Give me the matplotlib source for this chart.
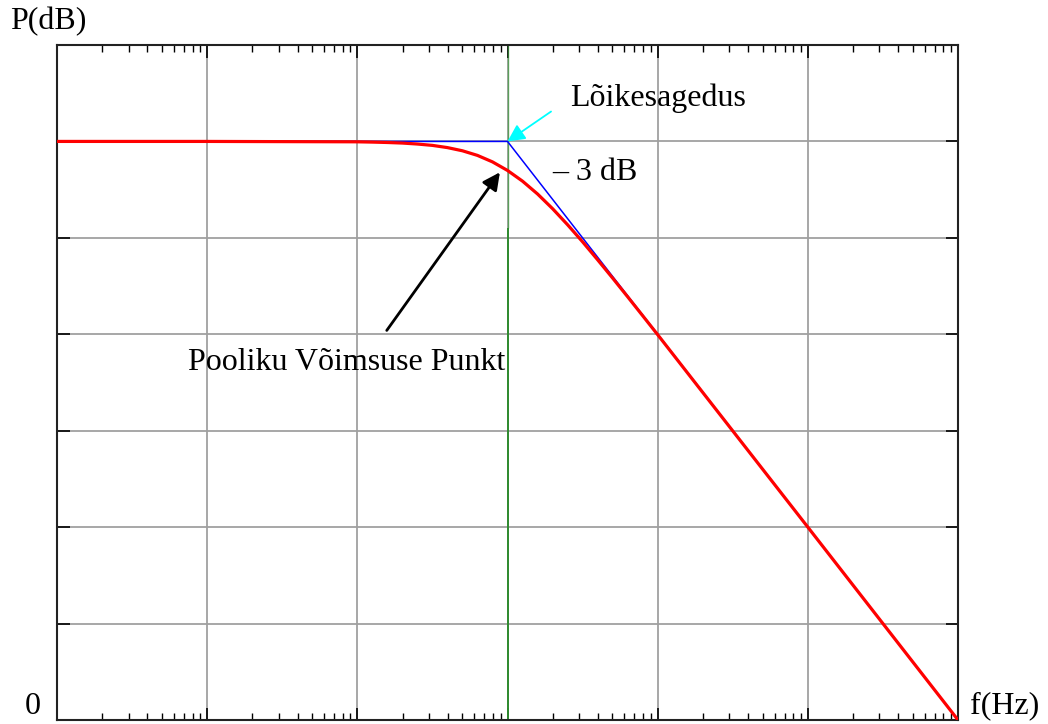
import matplotlib.pyplot as plt
from matplotlib.ticker import LogLocator, NullFormatter, MultipleLocator

plt.rcParams['font.family'] = ['Liberation Serif', 'DejaVu Serif']

# values (frequency in Hz, power in dB)
freq = [1, 10, 100, 126, 158, 200, 251, 316, 398, 501, 631, 794, 1000,
        1259, 1585, 1995, 2512, 3162, 3981, 5012, 6310, 7943, 10000,
        100000, 1000000]
power = [60.0, 60.0, 59.96, 59.93, 59.89, 59.83, 59.73, 59.59, 59.36, 59.03,
         58.55, 57.88, 56.99, 55.88, 54.55, 53.03, 51.36, 49.59, 47.73, 45.83,
         43.89, 41.93, 39.96, 20.0, 0.0]

# straight-line asymptote
asym_freq = [1, 1000, 1000000]
asym_power = [60, 60, 0]

f_cut = 1000

fig = plt.figure(figsize=(10.48, 7.24), dpi=100)
ax = fig.add_axes([57 / 1048, 1 - 720 / 724, (958 - 57) / 1048, (720 - 45) / 724])

ax.set_xscale('log')
ax.set_xlim(1, 1e6)
ax.set_ylim(0, 70)

ax.grid(which='major', color='#a0a0a0', linewidth=1.3)
ax.xaxis.set_major_locator(LogLocator(base=10, numticks=10))
ax.xaxis.set_minor_locator(LogLocator(base=10, subs=range(2, 10), numticks=100))
ax.yaxis.set_major_locator(MultipleLocator(10))
ax.xaxis.set_major_formatter(NullFormatter())
ax.xaxis.set_minor_formatter(NullFormatter())
ax.yaxis.set_major_formatter(NullFormatter())
ax.tick_params(which='both', direction='in', top=True, right=True, color='black')
ax.tick_params(which='major', length=9, width=1.2)
ax.tick_params(which='minor', length=5, width=1.0)
for s in ax.spines.values():
    s.set_linewidth(1.5)
    s.set_color('#222222')

# cutoff frequency marker
ax.vlines(f_cut, 51, 70, color='#3a9a3a', linewidth=1.0, alpha=0.7, zorder=2)
ax.vlines(f_cut, 0, 51, color='#2e8b2e', linewidth=1.4, zorder=2)

ax.plot(asym_freq, asym_power, color='blue', linewidth=1.1, zorder=3)
ax.plot(freq, power, color='red', linewidth=2.3, zorder=4)

ax.annotate('', xy=(f_cut, 60), xytext=(1950, 63.1),
            arrowprops=dict(arrowstyle='-|>', color='cyan', lw=1.3,
                            mutation_scale=26, shrinkA=0, shrinkB=0))
ax.text(2600, 64.5, 'Lõikesagedus', fontsize=23, va='center', ha='left')
ax.text(1980, 56.8, '– 3 dB', fontsize=23, va='center', ha='left')

ax.annotate('', xy=(890, 56.8), xytext=(157, 40.4),
            arrowprops=dict(arrowstyle='-|>', color='black', lw=2.0,
                            mutation_scale=26, shrinkA=0, shrinkB=0))
ax.text(7.45, 37.1, 'Pooliku Võimsuse Punkt', fontsize=23, va='center', ha='left')

fig.text(10 / 1048, 1 - 22 / 724, 'P(dB)', fontsize=23, va='center', ha='left')
fig.text(25 / 1048, 1 - 706 / 724, '0', fontsize=23, va='center', ha='left')
fig.text(970 / 1048, 1 - 706 / 724, 'f(Hz)', fontsize=23, va='center', ha='left')

fig.savefig('out.png', dpi=100)
